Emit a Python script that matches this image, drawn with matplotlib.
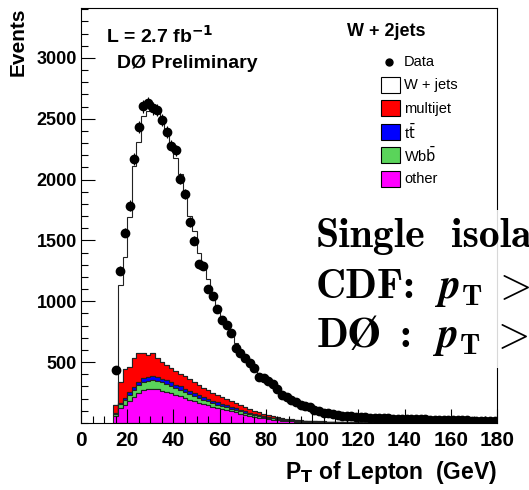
import numpy as np
import matplotlib
matplotlib.use("Agg")
import matplotlib.pyplot as plt
from matplotlib.patches import Rectangle
from matplotlib.lines import Line2D
from matplotlib.ticker import MultipleLocator, FixedLocator

plt.rcParams["font.family"] = ["Liberation Sans", "DejaVu Sans"]

# binning: 2 GeV bins from 14 to 180 GeV
bin_lo, bin_hi, bin_w = 14, 180, 2
bin_edges = np.arange(bin_lo, bin_hi + 1, bin_w)
centers = 0.5 * (bin_edges[:-1] + bin_edges[1:])

data = [436, 1252, 1565, 1787, 2168, 2432, 2601, 2629, 2585, 2572,
        2492, 2388, 2280, 2240, 2006, 1880, 1655, 1499, 1305, 1290,
        1100, 1042, 936, 850, 805, 743, 618, 575, 530, 490,
        452, 378, 367, 348, 324, 280, 232, 211, 189, 170,
        150, 140, 129, 107, 99, 86, 80, 74, 66, 61,
        58, 55, 53, 49, 47, 45, 42, 41, 39, 37,
        36, 35, 34, 33, 32, 31, 30, 29, 28, 27,
        24, 23, 23, 22, 22, 21, 21, 20, 20, 19,
        19, 18, 18]

other = [55, 120, 148, 183, 216, 248, 268, 277, 280, 276,
         266, 255, 243, 230, 218, 206, 193, 181, 168, 156,
         145, 134, 124, 114, 105, 96, 87, 78, 68, 60,
         52, 45, 39, 33, 28, 23, 19, 16, 14, 12,
         10, 9, 8, 7, 6, 6, 5, 5, 4, 4,
         4, 3, 3, 3, 3, 2, 2, 2, 2, 2,
         2, 2, 1, 1, 1, 1, 1, 1, 1, 1,
         1, 1, 1, 1, 1, 1, 1, 1, 1, 1,
         1, 1, 1]

wbb = [20, 35, 40, 50, 58, 64, 68, 70, 70, 69,
       67, 64, 61, 57, 54, 50, 47, 43, 40, 37,
       34, 31, 28, 26, 24, 22, 20, 18, 16, 15,
       13, 12, 11, 10, 9, 8, 7, 6, 6, 5,
       5, 4, 4, 4, 3, 3, 3, 3, 2, 2,
       2, 2, 2, 2, 2, 1, 1, 1, 1, 1,
       1, 1, 1, 1, 1, 1, 1, 1, 1, 1,
       1, 1, 1, 1, 1, 1, 1, 1, 1, 1,
       1, 1, 1]

ttbar = [8, 12, 15, 20, 25, 28, 30, 32, 33, 33,
         32, 31, 30, 29, 28, 27, 25, 24, 22, 21,
         20, 18, 17, 16, 15, 14, 13, 12, 11, 10,
         9, 9, 8, 7, 6, 6, 5, 5, 4, 4,
         4, 3, 3, 3, 3, 2, 2, 2, 2, 2,
         2, 2, 1, 1, 1, 1, 1, 1, 1, 1,
         1, 1, 1, 1, 1, 1, 1, 1, 1, 1,
         1, 1, 1, 1, 1, 1, 1, 1, 1, 1,
         1, 1, 1]

multijet = [67, 173, 239, 207, 233, 233, 207, 180, 190, 156,
            139, 127, 116, 109, 105, 107, 100, 92, 85, 76,
            69, 65, 61, 56, 51, 46, 42, 38, 33, 28,
            26, 22, 18, 15, 12, 9, 8, 6, 5, 4,
            4, 3, 3, 2, 2, 2, 1, 1, 1, 1,
            1, 1, 1, 1, 1, 1, 1, 1, 1, 1,
            1, 1, 1, 1, 1, 1, 1, 1, 1, 1,
            1, 1, 1, 1, 1, 1, 1, 1, 1, 1,
            1, 1, 1]

wjets = [0, 795, 923, 1230, 1578, 1737, 1947, 2001, 2017, 2026,
         1996, 1923, 1850, 1755, 1645, 1490, 1335, 1240, 1085, 990,
         912, 812, 730, 668, 605, 552, 498, 454, 417, 382,
         350, 317, 294, 270, 245, 224, 206, 189, 172, 158,
         144, 132, 121, 110, 101, 92, 84, 77, 70, 64,
         57, 53, 50, 47, 44, 42, 39, 37, 35, 33,
         31, 30, 29, 28, 27, 26, 25, 24, 23, 22,
         21, 20, 19, 18, 18, 17, 16, 16, 15, 15,
         14, 14, 13]

legend_labels = ["W + jets", "multijet", r"t$\bar{\mathrm{t}}$", r"Wb$\bar{\mathrm{b}}$", "other"]
legend_colors = ["white", "#ff0000", "#0000ff", "#5ad45a", "#ff00ff"]

W, H = 529, 490


def fx(px):
    return px / W


def fy(py):
    return 1 - py / H


fig = plt.figure(figsize=(W / 100, H / 100), dpi=100)
ax = fig.add_axes([fx(81), fy(423), fx(497) - fx(81), fy(8) - fy(423)])

ax.hist([centers] * 5, bins=bin_edges,
        weights=[other, wbb, ttbar, multijet, wjets],
        stacked=True, histtype="stepfilled",
        color=["#ff00ff", "#5ad45a", "#0000ff", "#ff0000", "white"],
        edgecolor="#222222", linewidth=0.8)

ax.errorbar(centers, data, yerr=np.sqrt(data), fmt="o", color="black",
            ms=6, elinewidth=0.8, capsize=0, zorder=5)

ax.set_xlim(0, 180)
ax.set_ylim(0, 3410)
ax.xaxis.set_major_locator(MultipleLocator(20))
ax.xaxis.set_minor_locator(MultipleLocator(5))
ax.yaxis.set_major_locator(FixedLocator([500, 1000, 1500, 2000, 2500, 3000]))
ax.yaxis.set_minor_locator(MultipleLocator(100))
ax.tick_params(which="both", direction="in", top=False, right=False, width=0.8)
ax.tick_params(which="major", length=10)
ax.tick_params(which="minor", length=5)
ax.tick_params(axis="y", labelsize=13, pad=3)
ax.tick_params(axis="x", labelsize=15, pad=6)
for lab in ax.get_xticklabels() + ax.get_yticklabels():
    lab.set_fontweight("bold")
for sp in ax.spines.values():
    sp.set_linewidth(0.8)

fig.text(fx(18), fy(8), "Events", rotation=90, ha="center", va="top",
         fontsize=15, fontweight="bold")
fig.text(fx(497), fy(479), r"P$_{\mathbf{T}}$ of Lepton  (GeV)", ha="right",
         va="baseline", fontsize=16.5, fontweight="bold")

fig.text(fx(106), fy(43), r"L = 2.7 fb$^{\mathbf{-1}}$", ha="left", va="baseline",
         fontsize=14, fontweight="bold")
fig.text(fx(117), fy(68), "DØ Preliminary", ha="left", va="baseline",
         fontsize=14, fontweight="bold")
fig.text(fx(347), fy(36), "W + 2jets", ha="left", va="baseline",
         fontsize=13, fontweight="bold")

# legend
fig.add_artist(Line2D([fx(389)], [fy(62)], marker="o", ms=5, color="black",
                      transform=fig.transFigure))
fig.text(fx(404), fy(62), "Data", ha="left", va="center", fontsize=10.5)
for i, (lab, col) in enumerate(zip(legend_labels, legend_colors)):
    yc = 85 + 23.5 * i
    fig.add_artist(Rectangle((fx(381), fy(yc + 8)), fx(18.5), fy(0) - fy(16),
                             facecolor=col, edgecolor="black", linewidth=0.8,
                             transform=fig.transFigure))
    fig.text(fx(404), fy(yc), lab, ha="left", va="center", fontsize=10.5)

# overlaid slide text box (partly running off the right edge, as on the slide)
fig.add_artist(Rectangle((fx(300), fy(368)), fx(W) - fx(300), fy(210) - fy(368),
                         facecolor="white", edgecolor="none", alpha=0.85,
                         transform=fig.transFigure))
slide_size = 30
slide_parts = [
    (316, 247, "Single", None),
    (451, 247, "isola", None),
    (316, 298, "CDF:", None),
    (434, 298, r"$\boldsymbol{p}_{\mathbf{T}}$", "cm"),
    (492, 298, r"$>$", "cm"),
    (316, 347, r"$\mathbf{D\O}$", "cm"),
    (400, 347, ":", None),
    (432, 347, r"$\boldsymbol{p}_{\mathbf{T}}$", "cm"),
    (490, 347, r"$>$", "cm"),
]
for x, y, s, mf in slide_parts:
    kw = {"math_fontfamily": mf} if mf else {}
    fig.text(fx(x), fy(y), s, ha="left", va="baseline", fontsize=slide_size,
             family=["cmb10", "DejaVu Serif"], **kw)

fig.savefig("out.png", dpi=100)
